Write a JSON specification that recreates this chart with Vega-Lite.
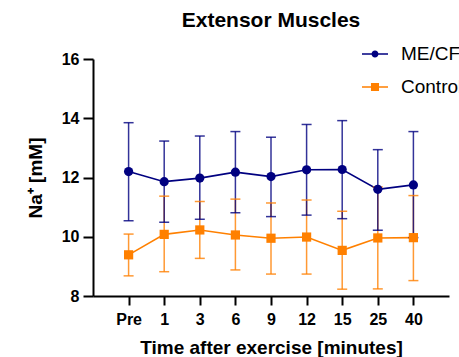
{
  "$schema": "https://vega.github.io/schema/vega-lite/v6.json",
  "width": 356,
  "height": 237,
  "autosize": {"type": "none"},
  "padding": {"left": 93, "top": 59, "right": 10, "bottom": 61},
  "title": {"text": "Extensor Muscles", "font": "Liberation Sans", "fontSize": 21, "fontWeight": "bold", "color": "black", "anchor": "middle", "offset": 10},
  "config": {
    "view": {"stroke": null},
    "axis": {
      "domainColor": "black", "domainWidth": 2, "tickColor": "black", "tickWidth": 2,
      "labelFont": "Liberation Sans", "labelFontSize": 16, "labelFontWeight": "bold", "labelColor": "black",
      "titleFont": "Liberation Sans", "titleFontSize": 19, "titleFontWeight": "bold", "titleColor": "black",
      "grid": false
    }
  },
  "data": {"values": [
    {"time": "Pre", "group": "Control", "mean": 9.39, "lo": 8.68, "hi": 10.09},
    {"time": "1", "group": "Control", "mean": 10.08, "lo": 8.82, "hi": 11.37},
    {"time": "3", "group": "Control", "mean": 10.23, "lo": 9.27, "hi": 11.19},
    {"time": "6", "group": "Control", "mean": 10.06, "lo": 8.88, "hi": 11.27},
    {"time": "9", "group": "Control", "mean": 9.95, "lo": 8.74, "hi": 11.14},
    {"time": "12", "group": "Control", "mean": 9.99, "lo": 8.74, "hi": 11.24},
    {"time": "15", "group": "Control", "mean": 9.54, "lo": 8.23, "hi": 10.86},
    {"time": "25", "group": "Control", "mean": 9.96, "lo": 8.24, "hi": 11.68},
    {"time": "40", "group": "Control", "mean": 9.97, "lo": 8.52, "hi": 11.39},
    {"time": "Pre", "group": "ME/CF", "mean": 12.2, "lo": 10.54, "hi": 13.85},
    {"time": "1", "group": "ME/CF", "mean": 11.86, "lo": 10.49, "hi": 13.23},
    {"time": "3", "group": "ME/CF", "mean": 11.98, "lo": 10.59, "hi": 13.4},
    {"time": "6", "group": "ME/CF", "mean": 12.18, "lo": 10.81, "hi": 13.55},
    {"time": "9", "group": "ME/CF", "mean": 12.03, "lo": 10.68, "hi": 13.36},
    {"time": "12", "group": "ME/CF", "mean": 12.26, "lo": 10.73, "hi": 13.79},
    {"time": "15", "group": "ME/CF", "mean": 12.27, "lo": 10.61, "hi": 13.92},
    {"time": "25", "group": "ME/CF", "mean": 11.6, "lo": 10.22, "hi": 12.94},
    {"time": "40", "group": "ME/CF", "mean": 11.75, "lo": 9.97, "hi": 13.55}
  ]},
  "encoding": {
    "x": {
      "field": "time", "type": "ordinal",
      "sort": ["Pre", "1", "3", "6", "9", "12", "15", "25", "40"],
      "scale": {"type": "point", "padding": 1},
      "axis": {"title": "Time after exercise [minutes]", "labelAngle": 0, "tickSize": 9, "labelPadding": 6, "titlePadding": 11}
    }
  },
  "layer": [
    {
      "mark": {"type": "line", "strokeWidth": 1.6},
      "encoding": {
        "y": {"field": "mean", "type": "quantitative",
          "scale": {"domain": [8, 16], "nice": false, "zero": false},
          "axis": {"title": "Na⁺ [mM]", "values": [8, 10, 12, 14, 16], "tickSize": 10, "labelPadding": 4, "titlePadding": 16}
        },
        "color": {"field": "group", "type": "nominal",
          "scale": {"domain": ["ME/CF", "Control"], "range": ["#000080", "#FF8000"]},
          "legend": null}
      }
    },
    {
      "mark": {"type": "rule", "strokeWidth": 1.5, "opacity": 0.8},
      "encoding": {"y": {"field": "lo", "type": "quantitative"}, "y2": {"field": "hi"},
        "color": {"field": "group", "type": "nominal", "legend": null}}
    },
    {
      "mark": {"type": "tick", "size": 10, "thickness": 1.5, "opacity": 0.8},
      "encoding": {"y": {"field": "lo", "type": "quantitative"},
        "color": {"field": "group", "type": "nominal", "legend": null}}
    },
    {
      "mark": {"type": "tick", "size": 10, "thickness": 1.5, "opacity": 0.8},
      "encoding": {"y": {"field": "hi", "type": "quantitative"},
        "color": {"field": "group", "type": "nominal", "legend": null}}
    },
    {
      "mark": {"type": "point", "filled": true, "opacity": 1, "size": 85},
      "encoding": {
        "y": {"field": "mean", "type": "quantitative"},
        "color": {"field": "group", "type": "nominal", "legend": null},
        "shape": {"field": "group", "type": "nominal",
          "scale": {"domain": ["ME/CF", "Control"], "range": ["circle", "square"]},
          "legend": null}
      }
    },
    {
      "transform": [{"filter": "datum.group === 'ME/CF'"}],
      "mark": {"type": "point", "filled": true, "opacity": 0, "size": 10, "color": "#000080"},
      "encoding": {
        "y": {"field": "mean", "type": "quantitative"},
        "shape": {"field": "group", "type": "nominal",
          "scale": {"domain": ["ME/CF"], "range": [
            "M-1,-0.06H1V0.06H-1Z M0.27,0 A0.27,0.27 0 1,1 -0.27,0 A0.27,0.27 0 1,1 0.27,0 Z"
          ]},
          "legend": {"title": null, "orient": "none", "legendX": 269, "legendY": -18,
            "padding": 0, "symbolSize": 676, "symbolOpacity": 1, "symbolStrokeWidth": 0,
            "labelFont": "Liberation Sans", "labelFontSize": 19, "labelColor": "black",
            "labelOffset": 13, "labelLimit": 300}
        }
      }
    },
    {
      "transform": [{"filter": "datum.group === 'Control'"}],
      "mark": {"type": "point", "filled": true, "opacity": 0, "size": 10, "color": "#FF8000"},
      "encoding": {
        "y": {"field": "mean", "type": "quantitative"},
        "shape": {"field": "group", "type": "nominal",
          "scale": {"domain": ["Control"], "range": [
            "M-1,-0.06H1V0.06H-1Z M-0.31,-0.31H0.31V0.31H-0.31Z"
          ]},
          "legend": {"title": null, "orient": "none", "legendX": 269, "legendY": 15,
            "padding": 0, "symbolSize": 676, "symbolOpacity": 1, "symbolStrokeWidth": 0,
            "labelFont": "Liberation Sans", "labelFontSize": 19, "labelColor": "black",
            "labelOffset": 13, "labelLimit": 300}
        }
      }
    }
  ],
  "resolve": {"scale": {"shape": "independent"}, "legend": {"shape": "independent"}}
}
